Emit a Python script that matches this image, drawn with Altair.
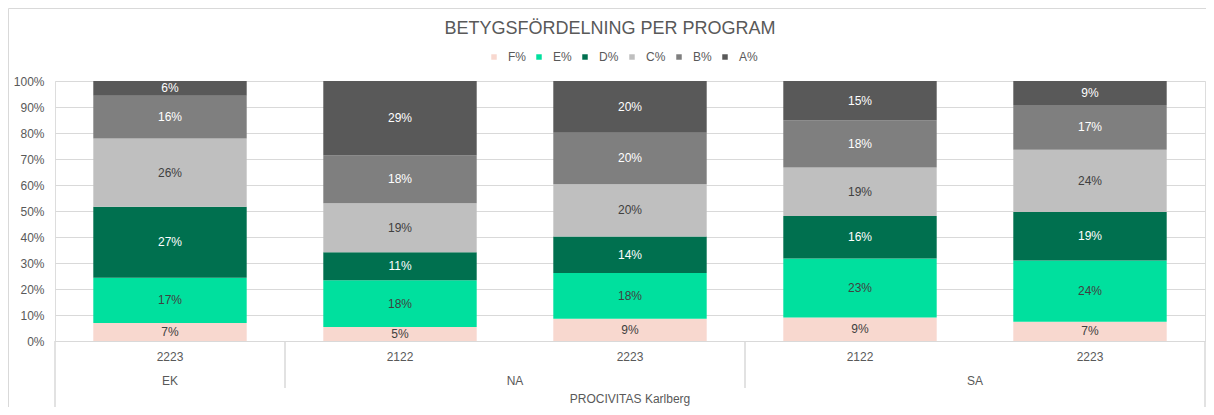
import altair as alt
import pandas as pd

# ---- data ----
programs = ["EK", "NA", "NA", "SA", "SA"]
years = ["2223", "2122", "2223", "2122", "2223"]
school = "PROCIVITAS Karlberg"
grades = ["F%", "E%", "D%", "C%", "B%", "A%"]
F_vals = [6.9, 5.4, 8.6, 9.0, 7.4]
E_vals = [17.4, 18.0, 17.6, 22.7, 23.6]
D_vals = [27.3, 10.7, 14.0, 16.4, 18.6]
C_vals = [26.3, 18.9, 20.1, 18.6, 24.0]
B_vals = [16.4, 18.3, 19.8, 18.2, 17.2]
A_vals = [5.7, 28.7, 19.9, 15.1, 9.2]
colors = ["#F8D8CF", "#00E09E", "#00704F", "#BFBFBF", "#7F7F7F", "#595959"]
y_ticks = [0, 10, 20, 30, 40, 50, 60, 70, 80, 90, 100]
title_text = "BETYGSFÖRDELNING PER PROGRAM"

FONT = "Liberation Sans"
TXT = "#595959"
GRID = "#D9D9D9"
W, H = 1150, 260

keys = [f"{p} {y}" for p, y in zip(programs, years)]
series = [F_vals, E_vals, D_vals, C_vals, B_vals, A_vals]
rows = []
for gi, (g, vals) in enumerate(zip(grades, series)):
    for k, p, y, v in zip(keys, programs, years, vals):
        rows.append({"key": k, "program": p, "year": y, "grade": g, "idx": gi, "pct": v})
df = pd.DataFrame(rows)
cats = pd.DataFrame({"key": keys, "program": programs, "year": years})

# group info for the multi-level axis
groups = []
for i, p in enumerate(programs):
    if not groups or groups[-1]["program"] != p:
        groups.append({"program": p, "first": keys[i], "n": 1})
    else:
        groups[-1]["n"] += 1
g_single = pd.DataFrame([g for g in groups if g["n"] % 2 == 1]).rename(columns={"first": "key"})
g_double = pd.DataFrame([g for g in groups if g["n"] % 2 == 0]).rename(columns={"first": "key"})
inner_starts = pd.DataFrame({"key": [g["first"] for g in groups[1:]]})
outer_left = pd.DataFrame({"key": [keys[0]]})
outer_right = pd.DataFrame({"key": [keys[-1]]})
school_df = pd.DataFrame({"key": [keys[len(keys) // 2]], "school": [school]})
title_df = pd.DataFrame({"t": [title_text]})


def X(bp=None):
    kw = dict(sort=keys, axis=None, scale=alt.Scale(paddingInner=0, paddingOuter=0))
    if bp is not None:
        kw["bandPosition"] = bp
    return alt.X("key:N", **kw)


y_axis = alt.Axis(values=y_ticks, labelExpr="datum.value + '%'", labelOverlap=False,
                  title=None, domain=False, ticks=False, gridColor=GRID, grid=True,
                  labelColor=TXT, labelFontSize=12, labelFont=FONT, labelPadding=11)
y_scale = alt.Scale(domain=[0, 100], nice=False)

base = (
    alt.Chart(df)
    .transform_stack(stack="pct", as_=["y0", "y1"], groupby=["key"],
                     sort=[alt.SortField("idx", order="ascending")])
    .transform_calculate(mid="(datum.y0 + datum.y1) / 2",
                         lab="format(datum.pct, '.0f') + '%'")
)

bars = base.mark_bar(width={"band": 0.667}).encode(
    x=X(),
    y=alt.Y("y1:Q", scale=y_scale, axis=y_axis),
    y2="y0:Q",
    color=alt.Color("grade:N", scale=alt.Scale(domain=grades, range=colors),
                    legend=alt.Legend(title=None, orient="none", legendX=433, legendY=-30,
                                      direction="horizontal", symbolType="square",
                                      symbolSize=30, symbolStrokeWidth=0, labelFontSize=12,
                                      labelFont=FONT, labelColor=TXT, columnPadding=7,
                                      labelOffset=8)),
    order=alt.Order("idx:Q", sort="ascending"),
)

labels = base.mark_text(fontSize=12, font=FONT).encode(
    x=X(),
    y=alt.Y("mid:Q", scale=y_scale, axis=y_axis),
    text="lab:N",
    color=alt.condition(alt.FieldOneOfPredicate(field="grade", oneOf=["D%", "B%", "A%"]),
                        alt.value("white"), alt.value("#404040")),
)

year_lab = alt.Chart(cats).mark_text(fontSize=12, font=FONT, color=TXT).encode(
    x=X(), y=alt.value(H + 16), text="year:N")
prog1 = alt.Chart(g_single).mark_text(fontSize=12, font=FONT, color=TXT).encode(
    x=X(0.5), y=alt.value(H + 40), text="program:N")
prog2 = alt.Chart(g_double).mark_text(fontSize=12, font=FONT, color=TXT).encode(
    x=X(1), y=alt.value(H + 40), text="program:N")
school_lab = alt.Chart(school_df).mark_text(fontSize=12, font=FONT, color=TXT).encode(
    x=X(0.5), y=alt.value(H + 58), text="school:N")

title_lab = alt.Chart(title_df).mark_text(fontSize=18, font=FONT, color=TXT).encode(
    x=alt.value(W / 2 - 20), y=alt.value(-52), text="t:N")

sep_inner = alt.Chart(inner_starts).mark_rule(color=GRID, strokeWidth=1.5).encode(
    x=X(0), y=alt.value(H), y2=alt.value(H + 47))
sep_left = alt.Chart(outer_left).mark_rule(color=GRID, strokeWidth=1.5).encode(
    x=X(0), y=alt.value(H), y2=alt.value(H + 71))
sep_right = alt.Chart(outer_right).mark_rule(color=GRID, strokeWidth=1.5).encode(
    x=X(1), y=alt.value(H), y2=alt.value(H + 71))

border_top = alt.Chart(outer_left).mark_rule(color=GRID, strokeWidth=1).encode(
    x=alt.value(-46.5), x2=alt.value(W + 10), y=alt.value(-72.5))
border_left = alt.Chart(outer_left).mark_rule(color=GRID, strokeWidth=1).encode(
    x=alt.value(-46.5), y=alt.value(-72.5), y2=alt.value(H + 80))

chart = (
    alt.layer(bars, labels, year_lab, prog1, prog2, school_lab, title_lab,
              sep_inner, sep_left, sep_right, border_top, border_left)
    .properties(
        width=W, height=H,
        autosize=alt.AutoSizeParams(type="none"),
        padding={"left": 47, "top": 73, "right": 1, "bottom": 66},
    )
    .configure_view(stroke=None)
    .configure(background="white")
)

chart.save("out.html", embed_options={"renderer": "svg", "actions": False})
